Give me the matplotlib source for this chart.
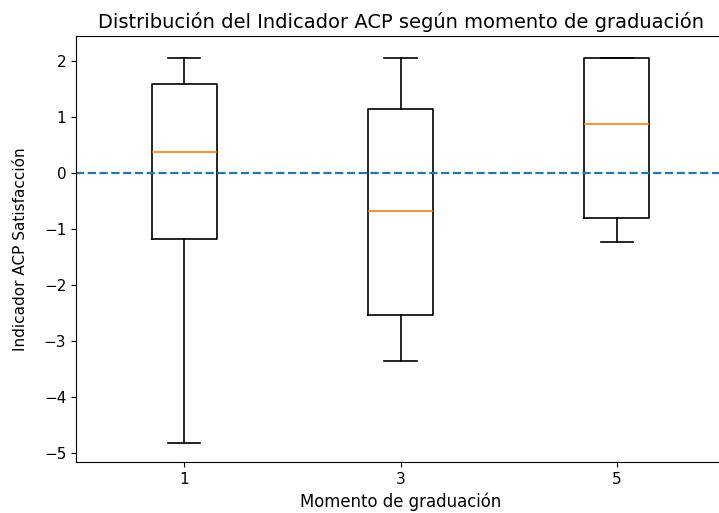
import matplotlib
matplotlib.use("Agg")
import matplotlib.pyplot as plt

# momentos de graduacion y estadisticos
momentos = ["1", "3", "5"]
whislo = [-4.82, -3.36, -1.23]
q1 = [-1.18, -2.53, -0.80]
med = [0.37, -0.68, 0.88]
q3 = [1.59, 1.14, 2.06]
whishi = [2.06, 2.06, 2.06]

stats = []
for i in range(len(momentos)):
    stats.append({"label": momentos[i], "whislo": whislo[i], "q1": q1[i],
                  "med": med[i], "q3": q3[i], "whishi": whishi[i], "fliers": []})

fig = plt.figure(figsize=(7.19, 5.13), dpi=100)
ax = fig.add_axes([76/719, 51/513, 649/719, 426/513])
lw = 1.2
ax.bxp(stats, positions=[1, 2, 3],
       boxprops=dict(linewidth=lw), whiskerprops=dict(linewidth=lw),
       capprops=dict(linewidth=lw), medianprops=dict(linewidth=lw, color="C1"))
ax.axhline(0, linestyle="--", color="C0", linewidth=1.6)
ax.set_title("Distribución del Indicador ACP según momento de graduación", fontsize=14)
ax.set_xlabel("Momento de graduación", fontsize=11.9)
ax.set_ylabel("Indicador ACP Satisfacción", fontsize=11, labelpad=11)
ax.tick_params(labelsize=11)
ax.set_ylim(-5.16, 2.45)

fig.savefig("out.png", dpi=100)
